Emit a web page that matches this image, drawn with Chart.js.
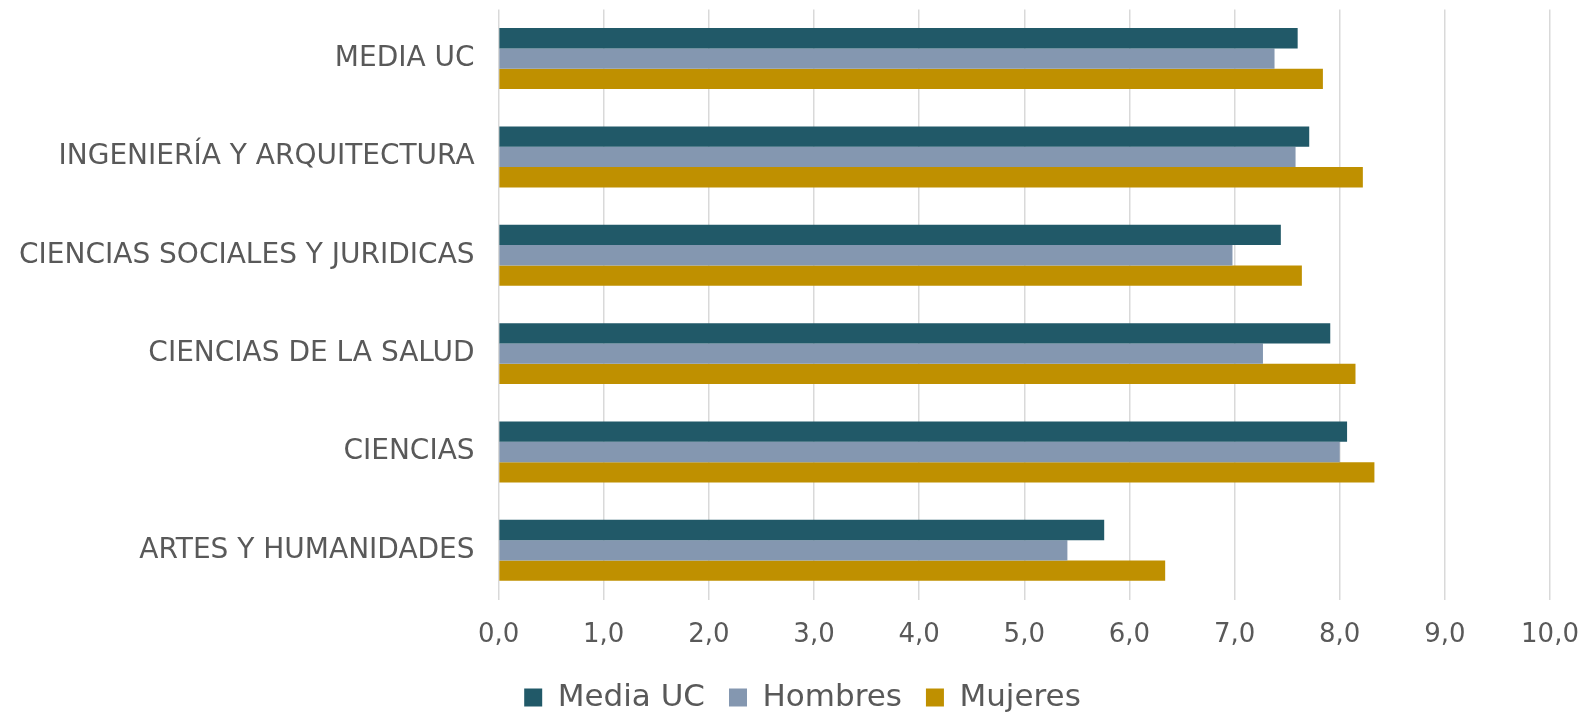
<!DOCTYPE html>
<html>
<head>
<meta charset="utf-8">
<script src="https://cdn.jsdelivr.net/npm/chart.js@4/dist/chart.umd.min.js"></script>
<style>
	html, body { margin: 0; padding: 0; background: #fff; overflow: hidden; }
	#wrap { width: 1583px; height: 721px; position: relative; top: -8px; }
</style>
</head>
<body>
<div id="wrap"><canvas id="rates-chart"></canvas></div>
<script>
// categories, top to bottom
var areaLabels = ['MEDIA UC', 'INGENIERÍA Y ARQUITECTURA', 'CIENCIAS SOCIALES Y JURIDICAS', 'CIENCIAS DE LA SALUD', 'CIENCIAS', 'ARTES Y HUMANIDADES'];
var mediaUC = [7.60, 7.71, 7.44, 7.91, 8.07, 5.76];
var hombres = [7.38, 7.58, 6.98, 7.27, 8.00, 5.41];
var mujeres = [7.84, 8.22, 7.64, 8.15, 8.33, 6.34];
var xTicks = [0, 1, 2, 3, 4, 5, 6, 7, 8, 9, 10];

var textColor = '#595959';

// move the legend a bit, like the original
const legendShift = {
	id: 'legendShift',
	afterLayout(chart) {
		chart.legend.left += 26;
		chart.legend.right += 26;
		chart.legend.top -= 13;
		chart.legend.bottom -= 13;
	}
};

const ratesChart = document.getElementById('rates-chart');
new Chart(ratesChart, {
	type: 'bar',
	data: {
		labels: areaLabels,
		datasets: [{
			label: 'Media UC',
			data: mediaUC,
			backgroundColor: '#215968',
		}, {
			label: 'Hombres',
			data: hombres,
			backgroundColor: '#8497B0',
		}, {
			label: 'Mujeres',
			data: mujeres,
			backgroundColor: '#BF9000',
		}]
	},
	options: {
		indexAxis: 'y',
		responsive: true,
		maintainAspectRatio: false,
		animation: false,
		layout: {
			autoPadding: false,
			padding: { left: 3, right: 33, top: 9, bottom: -23 }
		},
		datasets: {
			bar: { categoryPercentage: 0.62, barPercentage: 1.0, borderWidth: 0 }
		},
		scales: {
			x: {
				min: 0,
				max: 10,
				afterBuildTicks: function (axis) {
					axis.ticks = xTicks.map(v => ({ value: v }));
				},
				grid: { color: '#d9d9d9', lineWidth: 1.5, drawTicks: false },
				border: { display: false },
				ticks: {
					padding: 0,
					color: textColor,
					font: { family: 'DejaVu Sans', size: 26, lineHeight: 2.75 },
					callback: function (v) { return v.toFixed(1).replace('.', ','); }
				}
			},
			y: {
				grid: { display: false },
				border: { display: false },
				ticks: {
					padding: 16,
					color: textColor,
					font: { family: 'DejaVu Sans', size: 28, lineHeight: 0.1 }
				}
			}
		},
		plugins: {
			legend: {
				position: 'bottom',
				labels: {
					color: textColor,
					font: { family: 'DejaVu Sans', size: 31 },
					boxWidth: 18,
					boxHeight: 18,
					padding: 24
				}
			},
			tooltip: { enabled: false }
		}
	},
	plugins: [legendShift]
});
</script>
</body>
</html>
